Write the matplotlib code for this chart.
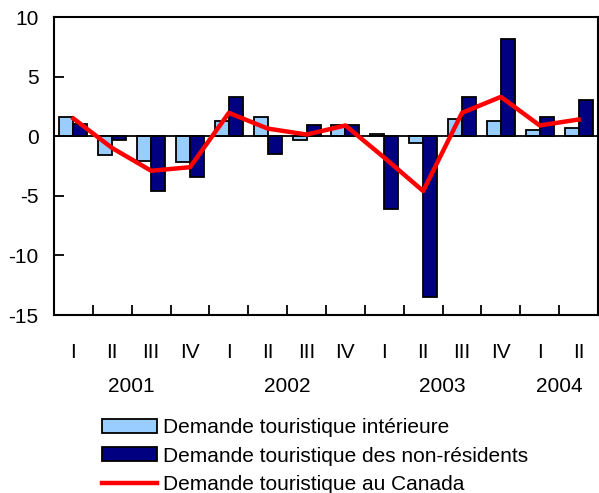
import numpy as np
import matplotlib.pyplot as plt
from matplotlib.patches import Patch
from matplotlib.lines import Line2D
from matplotlib.transforms import blended_transform_factory

plt.rcParams['font.family'] = ['Liberation Sans', 'DejaVu Sans']

quarters = ['I', 'II', 'III', 'IV', 'I', 'II', 'III', 'IV', 'I', 'II', 'III', 'IV', 'I', 'II']
years = ['2001', '2002', '2003', '2004']
year_span = [(0, 4), (4, 8), (8, 12), (12, 14)]

interieure = [1.57, -1.6, -2.1, -2.2, 1.3, 1.57, -0.28, 0.9, 0.17, -0.53, 1.45, 1.26, 0.56, 0.7]
non_residents = [1.0, -0.33, -4.6, -3.4, 3.25, -1.5, 0.9, 0.9, -6.07, -13.5, 3.3, 8.14, 1.57, 3.0]
canada = [1.48, -1.0, -2.9, -2.6, 1.96, 0.64, 0.14, 0.9, -1.8, -4.6, 1.96, 3.3, 0.9, 1.4]

light = '#99ccff'
dark = '#000080'
fs = 15

fig = plt.figure(figsize=(5.99, 4.93), dpi=100)
ax = fig.add_axes([54 / 599, 1 - 315 / 493, 544 / 599, 298 / 493])

x = np.arange(len(quarters))
w = 0.36
ax.bar(x - w / 2, interieure, w, color=light, edgecolor='black', linewidth=1.3, zorder=2)
ax.bar(x + w / 2, non_residents, w, color=dark, edgecolor='black', linewidth=1.3, zorder=2)
ax.axhline(0, color='black', linewidth=1.3, zorder=3)
ax.plot(x, canada, color='#ff0000', linewidth=3.2, zorder=4)

ax.set_xlim(-0.5, len(quarters) - 0.5)
ax.set_ylim(-15, 10)
ax.set_yticks([-15, -10, -5, 0, 5, 10])
ax.set_yticklabels(['-15', '-10', '-5', '0', '5', '10'])
ax.set_xticks(x)
ax.set_xticklabels(quarters)
ax.set_xticks(np.arange(0.5, len(quarters) - 1), minor=True)
ax.tick_params(axis='x', which='major', length=0, pad=20, labelsize=fs)
ax.tick_params(axis='x', which='minor', direction='in', length=7, width=1.3)
ax.tick_params(axis='y', direction='in', length=7, width=1.3, labelsize=fs, pad=11)
for s in ax.spines.values():
    s.set_linewidth(1.5)

trans = blended_transform_factory(ax.transData, fig.transFigure)
for yr, (a, b) in zip(years, year_span):
    ax.text((a + b - 1) / 2, 1 - 387 / 493, yr, transform=trans, ha='center', va='center', fontsize=fs)

handles = [
    Patch(facecolor=light, edgecolor='black', linewidth=1.3),
    Patch(facecolor=dark, edgecolor='black', linewidth=1.3),
    Line2D([0], [0], color='#ff0000', linewidth=3.2),
]
labels = ['Demande touristique intérieure',
          'Demande touristique des non-résidents',
          'Demande touristique au Canada']
fig.legend(handles, labels, loc='upper left', bbox_to_anchor=(102 / 599, 1 - 418 / 493),
           frameon=False, fontsize=fs, handlelength=2.62, handleheight=0.68,
           handletextpad=0.3, labelspacing=0.46, borderaxespad=0, borderpad=0)

fig.savefig('out.png', dpi=100)
